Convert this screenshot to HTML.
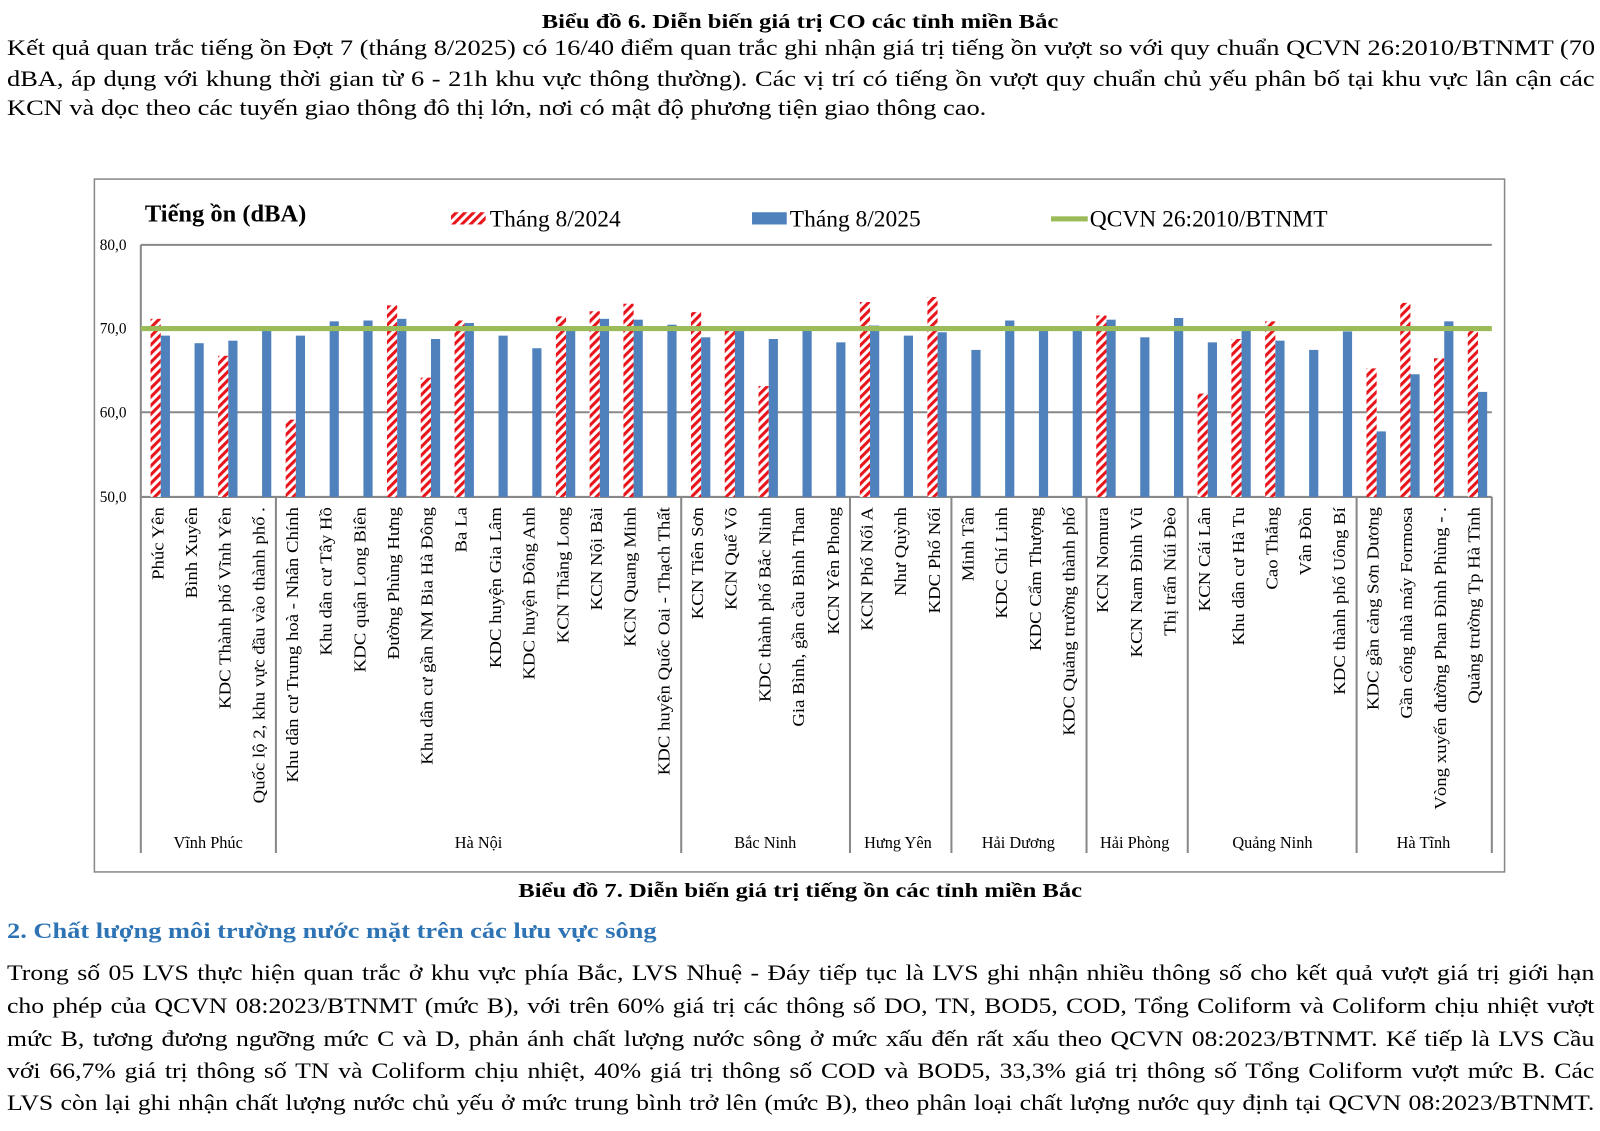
<!DOCTYPE html>
<html><head><meta charset="utf-8">
<style>
body{margin:0;width:1600px;height:1131px;background:#fff;position:relative;overflow:hidden;font-family:"Liberation Serif","Noto Serif CJK SC",serif;color:#000}
.t{position:absolute;white-space:nowrap}
.s{position:absolute;left:7px;white-space:nowrap;transform-origin:0 0;transform:scaleX(1.2);font-size:22px}
.j{position:absolute;left:7px;width:1323px;text-align:justify;text-align-last:justify;white-space:nowrap;transform-origin:0 0;transform:scaleX(1.2);font-size:22px}
.k{position:absolute;left:7px;width:1359px;text-align:justify;text-align-last:justify;white-space:nowrap;transform-origin:0 0;transform:scaleX(1.168);font-size:22px}
.c{position:absolute;left:0;width:1600px;text-align:center;font-size:20px;font-weight:bold}
.c span{display:inline-block;transform:scaleX(1.23)}
</style></head><body>
<div class="c" style="top:11px"><span>Biểu đồ 6. Diễn biến giá trị CO các tỉnh miền Bắc</span></div>
<div class="j" style="top:35px">Kết quả quan trắc tiếng ồn Đợt 7 (tháng 8/2025) có 16/40 điểm quan trắc ghi nhận giá trị tiếng ồn vượt so với quy chuẩn QCVN 26:2010/BTNMT (70</div>
<div class="j" style="top:66px">dBA, áp dụng với khung thời gian từ 6 - 21h khu vực thông thường). Các vị trí có tiếng ồn vượt quy chuẩn chủ yếu phân bố tại khu vực lân cận các</div>
<div class="s" style="top:95px">KCN và dọc theo các tuyến giao thông đô thị lớn, nơi có mật độ phương tiện giao thông cao.</div>

<svg style="position:absolute;left:0;top:0" width="1600" height="1131" xmlns="http://www.w3.org/2000/svg" font-family="Liberation Serif, serif">
<defs>
<pattern id="h" patternUnits="userSpaceOnUse" width="6" height="6" patternTransform="rotate(45)">
<rect width="6" height="6" fill="#fff"/><rect width="3" height="6" fill="#e8141b"/></pattern>
</defs>
<g transform="scale(1.0204)">
<rect x="92.5" y="175.5" width="1382" height="679" fill="#fff" stroke="#888" stroke-width="1.5"/>
<text x="142" y="217" font-size="24" font-weight="bold">Tiếng ồn (dBA)</text>
<rect x="442" y="208" width="34" height="12" fill="url(#h)"/>
<text x="480" y="222" font-size="23">Tháng 8/2024</text>
<rect x="737" y="208" width="34" height="12" fill="#4f81bd"/>
<text x="774" y="222" font-size="23">Tháng 8/2025</text>
<rect x="1030" y="212" width="36" height="5" fill="#9bbb59"/>
<text x="1068" y="222" font-size="23">QCVN 26:2010/BTNMT</text>
<g stroke="#888" stroke-width="2">
<line x1="138" y1="240" x2="1462" y2="240"/>
<line x1="138" y1="404" x2="1462" y2="404"/>
<line x1="138" y1="487" x2="1462" y2="487"/>
<line x1="138" y1="240" x2="138" y2="836"/>
<line x1="1462" y1="487" x2="1462" y2="836"/>
<line x1="270.4" y1="487" x2="270.4" y2="836"/>
<line x1="667.6" y1="487" x2="667.6" y2="836"/>
<line x1="833" y1="487" x2="833" y2="836"/>
<line x1="932.4" y1="487" x2="932.4" y2="836"/>
<line x1="1064.8" y1="487" x2="1064.8" y2="836"/>
<line x1="1164" y1="487" x2="1164" y2="836"/>
<line x1="1329.5" y1="487" x2="1329.5" y2="836"/>
</g>
<g font-size="15" text-anchor="end">
<text x="124" y="245">80,0</text><text x="124" y="327">70,0</text><text x="124" y="409">60,0</text><text x="124" y="492">50,0</text>
</g>
<g id="bars"></g>
<rect x="138" y="319.5" width="1324" height="5" fill="#9bbb59"/>
<g font-size="16" text-anchor="end">
<text transform="translate(160,497) rotate(-90) scale(1.15,1)">Phúc Yên</text>
<text transform="translate(193,497) rotate(-90) scale(1.15,1)">Bình Xuyên</text>
<text transform="translate(226,497) rotate(-90) scale(1.15,1)">KDC Thành phố Vĩnh Yên</text>
<text transform="translate(259,497) rotate(-90) scale(1.15,1)">Quốc lộ 2, khu vực đầu vào thành phố .</text>
<text transform="translate(292,497) rotate(-90) scale(1.15,1)">Khu dân cư Trung hoà - Nhân Chính</text>
<text transform="translate(325,497) rotate(-90) scale(1.15,1)">Khu dân cư Tây Hồ</text>
<text transform="translate(358,497) rotate(-90) scale(1.15,1)">KDC quận Long Biên</text>
<text transform="translate(391,497) rotate(-90) scale(1.15,1)">Đường Phùng Hưng</text>
<text transform="translate(424,497) rotate(-90) scale(1.15,1)">Khu dân cư gần NM Bia Hà Đông</text>
<text transform="translate(457,497) rotate(-90) scale(1.15,1)">Ba La</text>
<text transform="translate(491,497) rotate(-90) scale(1.15,1)">KDC huyện Gia Lâm</text>
<text transform="translate(524,497) rotate(-90) scale(1.15,1)">KDC huyện Đông Anh</text>
<text transform="translate(557,497) rotate(-90) scale(1.15,1)">KCN Thăng Long</text>
<text transform="translate(590,497) rotate(-90) scale(1.15,1)">KCN Nội Bài</text>
<text transform="translate(623,497) rotate(-90) scale(1.15,1)">KCN Quang Minh</text>
<text transform="translate(656,497) rotate(-90) scale(1.15,1)">KDC huyện Quốc Oai - Thạch Thất</text>
<text transform="translate(689,497) rotate(-90) scale(1.15,1)">KCN Tiên Sơn</text>
<text transform="translate(722,497) rotate(-90) scale(1.15,1)">KCN Quế Võ</text>
<text transform="translate(755,497) rotate(-90) scale(1.15,1)">KDC thành phố Bắc Ninh</text>
<text transform="translate(788,497) rotate(-90) scale(1.15,1)">Gia Bình, gần cầu Bình Than</text>
<text transform="translate(822,497) rotate(-90) scale(1.15,1)">KCN Yên Phong</text>
<text transform="translate(855,497) rotate(-90) scale(1.15,1)">KCN Phố Nối A</text>
<text transform="translate(888,497) rotate(-90) scale(1.15,1)">Như Quỳnh</text>
<text transform="translate(921,497) rotate(-90) scale(1.15,1)">KDC Phố Nối</text>
<text transform="translate(954,497) rotate(-90) scale(1.15,1)">Minh Tân</text>
<text transform="translate(987,497) rotate(-90) scale(1.15,1)">KDC Chí Linh</text>
<text transform="translate(1020,497) rotate(-90) scale(1.15,1)">KDC Cẩm Thượng</text>
<text transform="translate(1053,497) rotate(-90) scale(1.15,1)">KDC Quảng trường thành phố</text>
<text transform="translate(1086,497) rotate(-90) scale(1.15,1)">KCN Nomura</text>
<text transform="translate(1119,497) rotate(-90) scale(1.15,1)">KCN Nam Đình Vũ</text>
<text transform="translate(1152,497) rotate(-90) scale(1.15,1)">Thị trấn Núi Đèo</text>
<text transform="translate(1186,497) rotate(-90) scale(1.15,1)">KCN Cái Lân</text>
<text transform="translate(1219,497) rotate(-90) scale(1.15,1)">Khu dân cư Hà Tu</text>
<text transform="translate(1252,497) rotate(-90) scale(1.15,1)">Cao Thắng</text>
<text transform="translate(1285,497) rotate(-90) scale(1.15,1)">Vân Đồn</text>
<text transform="translate(1318,497) rotate(-90) scale(1.15,1)">KDC thành phố Uông Bí</text>
<text transform="translate(1351,497) rotate(-90) scale(1.15,1)">KDC gần cảng Sơn Dương</text>
<text transform="translate(1384,497) rotate(-90) scale(1.15,1)">Gần cổng nhà máy Formosa</text>
<text transform="translate(1417,497) rotate(-90) scale(1.15,1)">Vòng xuyến đường Phan Đình Phùng - .</text>
<text transform="translate(1450,497) rotate(-90) scale(1.15,1)">Quảng trường Tp Hà Tĩnh</text>
</g>
<g font-size="16" text-anchor="middle">
<text x="204" y="831">Vĩnh Phúc</text><text x="469" y="831">Hà Nội</text><text x="750" y="831">Bắc Ninh</text>
<text x="880" y="831">Hưng Yên</text><text x="998" y="831">Hải Dương</text><text x="1112" y="831">Hải Phòng</text>
<text x="1247" y="831">Quảng Ninh</text><text x="1395" y="831">Hà Tĩnh</text>
</g>
</g>
</svg>

<div class="c" style="top:880px"><span>Biểu đồ 7. Diễn biến giá trị tiếng ồn các tỉnh miền Bắc</span></div>
<div class="s" style="top:918px;font-weight:bold;color:#2e74b5">2. Chất lượng môi trường nước mặt trên các lưu vực sông</div>
<div class="k" style="top:960px">Trong số 05 LVS thực hiện quan trắc ở khu vực phía Bắc, LVS Nhuệ - Đáy tiếp tục là LVS ghi nhận nhiều thông số cho kết quả vượt giá trị giới hạn</div>
<div class="k" style="top:993px">cho phép của QCVN 08:2023/BTNMT (mức B), với trên 60% giá trị các thông số DO, TN, BOD5, COD, Tổng Coliform và Coliform chịu nhiệt vượt</div>
<div class="k" style="top:1026px">mức B, tương đương ngưỡng mức C và D, phản ánh chất lượng nước sông ở mức xấu đến rất xấu theo QCVN 08:2023/BTNMT. Kế tiếp là LVS Cầu</div>
<div class="k" style="top:1058px">với 66,7% giá trị thông số TN và Coliform chịu nhiệt, 40% giá trị thông số COD và BOD5, 33,3% giá trị thông số Tổng Coliform vượt mức B. Các</div>
<div class="k" style="top:1090px">LVS còn lại ghi nhận chất lượng nước chủ yếu ở mức trung bình trở lên (mức B), theo phân loại chất lượng nước quy định tại QCVN 08:2023/BTNMT.</div>

<script>
var R=[71.2,0,66.8,0,59.2,0,0,72.8,64.2,71.0,0,0,71.5,72.1,73.0,0,72.0,69.9,63.2,0,0,73.2,0,73.8,0,0,0,0,71.6,0,0,62.3,68.8,70.9,0,0,65.3,73.1,66.5,69.9];
var B=[69.2,68.3,68.6,70.3,69.2,70.9,71.0,71.2,68.8,70.7,69.2,67.7,69.9,71.2,71.1,70.5,69.0,69.9,68.8,69.9,68.4,70.4,69.2,69.6,67.5,71.0,69.9,69.8,71.1,69.0,71.3,68.4,69.8,68.6,67.5,69.7,57.8,64.6,70.9,62.5];
var g=document.getElementById('bars'),s='';
function y(v){return 487-(v-50)*8.233;}
for(var i=0;i<40;i++){var cx=138+33.1*(i+0.5);
if(R[i])s+='<rect x="'+(cx-7)+'" y="'+y(R[i])+'" width="10" height="'+(487-y(R[i]))+'" fill="url(#h)"/>';
s+='<rect x="'+(cx+3)+'" y="'+y(B[i])+'" width="9" height="'+(487-y(B[i]))+'" fill="#4f81bd"/>';}
g.innerHTML=s;
</script>
</body></html>
